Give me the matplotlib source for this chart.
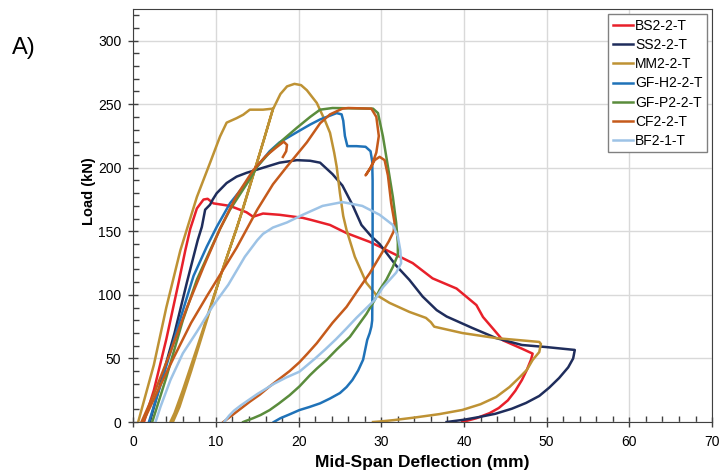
import matplotlib.pyplot as plt
from matplotlib.ticker import MultipleLocator

plt.rcParams['font.family'] = ['Liberation Sans', 'DejaVu Sans']

# load-deflection data (mm, kN)
bs_x = [1.3, 2.5, 4.0, 5.5, 6.3, 6.9, 7.7, 8.5, 9.0, 9.7, 11.7, 13.7, 14.5, 15.7, 17.7, 20.5,
        21.5, 23.8, 25.8, 28.6, 29.8, 31.0, 33.8, 36.2, 39.1, 41.5, 42.3, 43.5, 44.7, 47.0, 48.3,
        48.1, 47.6, 47.0, 46.2, 45.3, 44.2, 43.1, 41.5, 39.8]
bs_y = [0, 25, 65, 110, 135, 152, 168, 175, 175.6, 172, 170, 165, 161.5, 164, 163, 160.6,
        159, 155, 148.6, 141.7, 138, 134, 125, 113, 105, 92, 82.6, 73.5, 64.3, 57.7, 53.8,
        49, 41, 33, 24.5, 17, 11, 7, 3, 0]

ss_x = [2.0, 3.5, 5.0, 6.5, 7.8, 8.3, 8.7, 9.3, 9.6, 10.1, 11.3, 12.5, 13.7, 15.7, 17.7, 19.8,
        21.4, 22.6, 24.1, 25.3, 26.5, 27.6, 28.8, 29.8, 31.8, 33.4, 35.0, 36.7, 37.9, 41.0, 43.9,
        47.0, 49.9, 53.4, 53.2, 52.6, 51.5, 50.3, 49.1, 47.5, 45.8, 43.8, 41.9, 40.0, 37.9]
ss_y = [0, 35, 70, 110, 143, 153.5, 167, 171, 174.8, 180, 188, 193, 196, 200, 204, 206,
        205.5, 204, 195, 186, 171, 155, 146, 140, 123, 111.8, 98.7, 88, 83, 74, 66,
        60.6, 59, 56.7, 50, 43, 34.6, 27, 20.5, 15, 10.5, 6.5, 4, 1.8, 0]

mm_x = [0.6, 2.5, 4.0, 5.7, 7.7, 9.3, 10.5, 11.3, 12.5, 13.3, 14.1, 15.7, 16.9,
        15.8, 14.6, 13.2, 11.6, 9.8, 7.8, 6.0, 5.0, 4.5,
        4.8, 5.6, 7.0, 8.9, 10.7, 12.5, 14.3, 15.8, 16.9, 17.8, 18.6, 19.5, 20.3, 21.0, 22.2,
        23.2, 23.8, 24.3, 24.6, 25.0, 25.4, 25.8, 26.8, 28.2, 29.4, 31.0, 33.4, 35.4, 36.0,
        36.4, 39.8, 43.9, 49.1, 49.3, 49.1, 48.3, 47.6, 46.7, 45.5, 43.9, 42.0, 39.8, 37.0,
        34.0, 31.5, 29.8, 29.0]
mm_y = [0, 45, 90, 135, 177, 204, 224.6, 235.5, 239, 241.7, 245.7, 245.7, 246.5,
        222, 196, 166, 135, 100, 60, 25, 7, 0,
        0, 12, 40, 80, 118, 152, 190, 222, 246, 258, 264, 266, 265, 261, 251,
        237, 227.5, 212, 201, 180, 162, 151, 130, 109.4, 100, 93.7, 86.6, 81.9, 78.5,
        75, 70, 66, 63, 61.4, 55, 48.8, 41, 35, 27.5, 19.7, 14, 9.5, 6.2,
        3.5, 1.5, 0.4, 0]

gfh_x = [1.9, 3.5, 5.5, 7.3, 8.9, 10.1, 11.7, 13.3, 15.0, 16.5, 17.7, 19.8, 21.4, 22.6, 23.8,
         24.6, 25.2, 25.4, 25.6, 25.9, 27.0, 28.1, 28.7, 28.9, 28.95, 28.95, 28.9, 28.8,
         28.6, 28.3, 27.8, 27.2, 26.5, 25.8, 25.0, 23.8, 22.6, 21.3, 20.1, 18.9, 17.8, 17.0]
gfh_y = [0, 33, 77, 115, 138, 153.5, 172, 185, 201, 213, 220, 228, 234, 238, 241,
         243, 242, 237, 225, 217, 217, 216.5, 213, 205, 190, 120, 80, 75,
         70, 64.6, 49, 40.5, 33, 27.5, 22.8, 18.5, 14.7, 11.8, 9.4, 6, 3, 0]

gfp_x = [2.3, 4.0, 6.0, 7.7, 9.3, 10.5, 11.7, 13.0, 14.2, 15.0, 16.5, 18.1, 19.8, 21.4, 22.6,
         24.1, 29.0, 29.6, 30.2, 30.8, 31.4, 31.8, 32.0, 32.0, 31.4, 30.6, 29.8, 29.2, 28.2,
         27.2, 26.2, 24.6, 23.4, 22.2, 21.4, 20.1, 18.9, 17.6, 16.5, 15.4, 14.5, 13.6, 13.3]
gfp_y = [0, 35, 80, 112, 135, 152, 167, 180, 192, 201, 212, 222, 231.5, 240, 245.7,
         247, 246.5, 243, 224.6, 201, 177, 156.7, 141, 131.5, 122, 111.8, 104, 96, 85,
         76, 67, 57, 49, 42, 37, 28, 21, 14.5, 9.4, 5.5, 3, 0.8, 0]

cf_x = [1.0, 2.5, 4.5, 6.5, 8.5, 10.5, 12.5, 14.5, 16.0, 17.3, 18.2, 18.6, 18.5, 18.1]
cf_y = [0, 22, 55, 90, 122, 152, 178, 198, 209, 216, 220.5, 218, 213, 208.5]
cf2_x = [1.2, 3.0, 5.0, 7.0, 9.0, 10.9, 12.5, 15.0, 16.9, 18.6, 21.0, 22.6, 23.8, 25.3, 26.0,
         28.8, 29.4, 29.7, 29.4, 28.8, 28.1, 28.6, 29.2, 29.8, 30.4, 30.8, 31.2, 31.6, 31.5,
         30.9, 29.8, 28.6, 27.2, 25.8, 24.1, 22.2, 21.1, 20.1, 18.9, 17.7, 16.5, 15.3, 14.1,
         13.2, 12.5, 11.5, 10.9]
cf2_y = [0, 25, 52, 78, 100, 120, 137, 167, 187, 201, 220, 235, 242, 246.5, 247,
         246.5, 240, 225, 212, 201, 194, 199, 206, 208.6, 206, 194, 172, 157, 150,
         142, 130, 117, 104, 90.6, 78, 62, 54, 47, 40, 34, 28, 21.5, 16,
         11.5, 8, 3, 0]

bf_x = [2.7, 3.3, 4.5, 6.0, 7.7, 9.6, 11.5, 13.5, 15.0, 15.7, 16.9, 18.6, 20.5, 22.9, 25.3,
        27.7, 29.8, 31.4, 32.0, 32.3, 32.4, 31.8, 30.2, 29.2, 28.1, 27.0, 25.7, 24.5, 23.2,
        22.0, 21.0, 20.1, 18.5, 17.0, 16.0, 15.0, 14.0, 13.0, 12.2, 11.6, 11.0]
bf_y = [0, 12, 33, 54, 71, 91, 108, 130, 143, 148, 153, 157, 163, 170, 173,
        170, 163, 155, 146, 135, 125, 117.5, 106, 96, 89, 82, 73, 65, 57,
        50, 44.5, 39.6, 35, 30, 26, 22, 17.5, 13, 9, 5, 0]

names = ['BS2-2-T', 'SS2-2-T', 'MM2-2-T', 'GF-H2-2-T', 'GF-P2-2-T', 'CF2-2-T', 'BF2-1-T']
colors = ['#E8202A', '#1F2D5C', '#BE9234', '#1F72B8', '#5A8C3C', '#C55A1B', '#9DC3E6']

fig = plt.figure(figsize=(7.2, 4.76), dpi=100)
ax = fig.add_axes([0.185, 0.1134, 0.804, 0.868])

lw = 1.8
ax.plot(bs_x, bs_y, color=colors[0], lw=lw, label=names[0])
ax.plot(ss_x, ss_y, color=colors[1], lw=lw, label=names[1])
ax.plot(mm_x, mm_y, color=colors[2], lw=lw, label=names[2])
ax.plot(gfh_x, gfh_y, color=colors[3], lw=lw, label=names[3])
ax.plot(gfp_x, gfp_y, color=colors[4], lw=lw, label=names[4])
ax.plot(cf_x, cf_y, color=colors[5], lw=lw, label=names[5])
ax.plot(cf2_x, cf2_y, color=colors[5], lw=lw)
ax.plot(bf_x, bf_y, color=colors[6], lw=lw, label=names[6])

ax.set_xlim(0, 70)
ax.set_ylim(0, 325)
ax.xaxis.set_major_locator(MultipleLocator(10))
ax.xaxis.set_minor_locator(MultipleLocator(2))
ax.yaxis.set_major_locator(MultipleLocator(50))
ax.yaxis.set_minor_locator(MultipleLocator(10))
ax.grid(which='major', color='#D9D9D9', lw=1)
ax.set_axisbelow(True)
ax.tick_params(which='major', direction='inout', length=7, width=1, color='#404040',
               labelsize=10, pad=5)
ax.tick_params(axis='x', which='major', pad=6)
ax.tick_params(which='minor', direction='in', length=4, width=1, color='#404040')
for s in ax.spines.values():
    s.set_color('#404040')

ax.set_xlabel('Mid-Span Deflection (mm)', fontsize=12.5, fontweight='bold', labelpad=4)
ax.set_ylabel('Load (kN)', fontsize=10.5, fontweight='bold', labelpad=6)
ax.yaxis.set_label_coords(-0.065, 0.56)

leg = ax.legend(loc='upper right', fontsize=10, handlelength=1.5, handletextpad=0.1,
                labelspacing=0.38, borderaxespad=0.4, fancybox=False, framealpha=1,
                edgecolor='#808080', borderpad=0.3)
leg.get_frame().set_linewidth(1)

fig.text(0.017, 0.899, 'A)', fontsize=17, va='center', ha='left')

fig.savefig('out.png', dpi=100)
